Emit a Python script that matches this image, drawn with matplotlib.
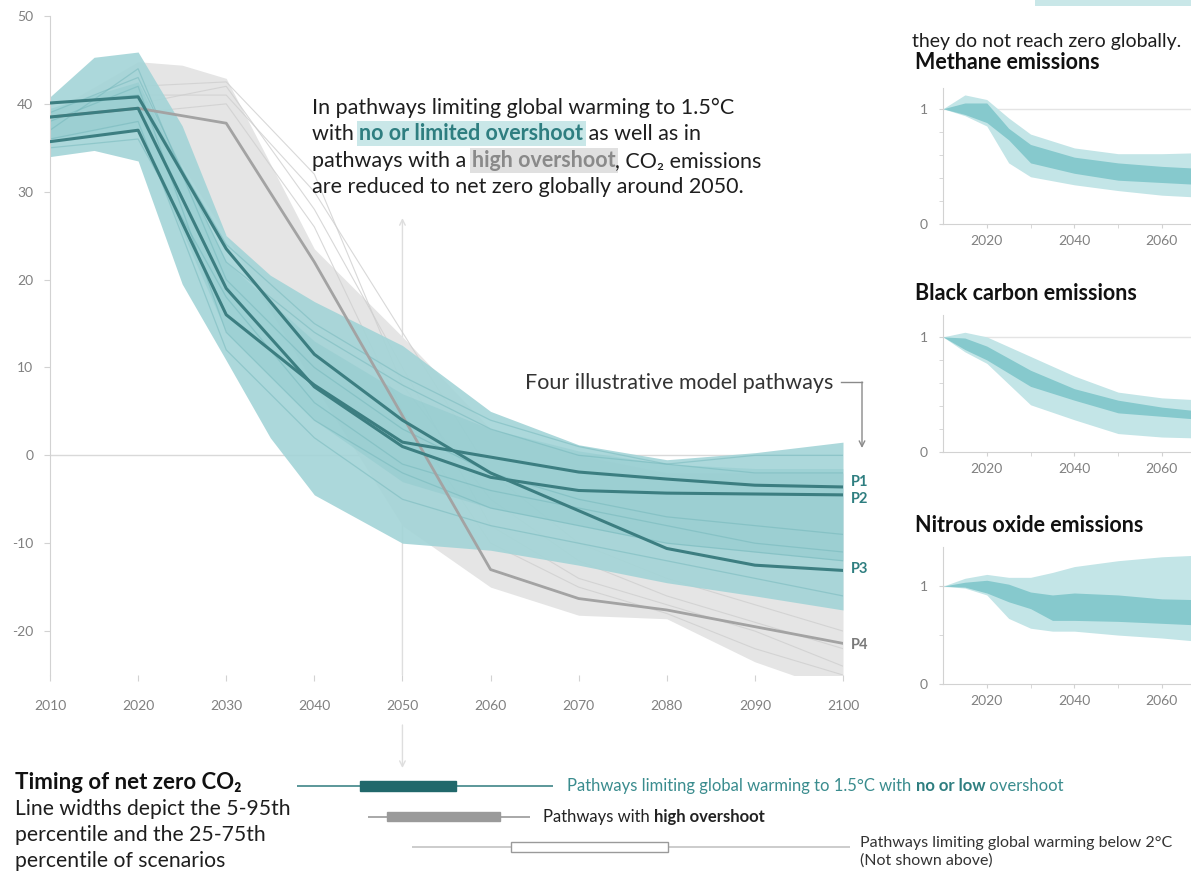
import matplotlib
matplotlib.use('Agg')
import matplotlib.pyplot as plt
from matplotlib.patches import Rectangle
from matplotlib.ticker import MultipleLocator, FixedLocator

plt.rcParams['font.family'] = ['Lato', 'DejaVu Sans']
plt.rcParams['axes.unicode_minus'] = False

# ---------------- data ----------------
env_years = [2010, 2015, 2020, 2025, 2030, 2035, 2040, 2050, 2060, 2070, 2080, 2090, 2100]
teal_upper = [40.8, 45.3, 45.9, 37.5, 25.0, 20.5, 17.5, 12.5, 5.0, 1.2, -0.5, 0.3, 1.5]
teal_lower = [34.0, 34.7, 33.5, 19.5, 10.8, 2.0, -4.5, -10.0, -10.8, -12.5, -14.5, -16.0, -17.6]

gray_years = [2010, 2020, 2025, 2030, 2040, 2050, 2060, 2070, 2080, 2090, 2100]
gray_upper = [39.0, 44.8, 44.4, 42.9, 23.5, 13.5, 3.0, 0.0, -2.0, -2.0, -2.0]
gray_lower = [36.0, 38.0, 33.0, 25.0, 8.0, -8.0, -15.0, -18.2, -18.6, -23.5, -27.0]

path_years = [2010, 2020, 2030, 2040, 2050, 2060, 2070, 2080, 2090, 2100]
P1 = [35.7, 37.0, 16.0, 8.0, 1.5, -0.2, -1.9, -2.7, -3.4, -3.6]
P2 = [38.5, 39.5, 19.0, 7.8, 1.0, -2.5, -4.0, -4.3, -4.4, -4.5]
P3 = [40.1, 40.8, 23.5, 11.5, 4.0, -2.0, -6.3, -10.6, -12.5, -13.1]
P4 = [38.5, 39.5, 37.8, 22.0, 4.5, -13.0, -16.3, -17.6, -19.5, -21.4]

teal_core_upper = [39.5, 42.5, 22.0, 13.0, 7.0, 3.0, 0.5, -1.0, -1.5, -1.5]
teal_core_lower = [36.0, 37.0, 14.0, 4.0, -3.0, -6.0, -8.0, -10.0, -11.0, -12.0]

teal_scen_1 = [37, 44, 20, 10, 3, -2, -5, -7, -8, -9]
teal_scen_2 = [38, 42, 14, 4, -2, -6, -8, -10, -11, -12]
teal_scen_3 = [36, 38, 12, 2, -5, -8, -10, -12, -14, -16]
teal_scen_4 = [39, 43, 22, 14, 8, 3, 0, -1, -2, -2]
teal_scen_5 = [35, 36, 18, 6, -1, -4, -6, -8, -10, -11]
teal_scen_6 = [40, 41, 24, 15, 9, 4, 1, -1, 0, 0]
gray_scen_years = [2020, 2030, 2040, 2050, 2060, 2070, 2080, 2090, 2100]
gray_scen_1 = [40, 42, 28, 10, -8, -14, -17, -20, -24]
gray_scen_2 = [41, 41, 30, 14, -2, -10, -14, -17, -20]
gray_scen_3 = [42, 42.5, 32, 8, -5, -12, -16, -19, -22]
gray_scen_4 = [39, 40, 26, 5, -10, -15, -18, -22, -25]

ch4_years = [2010, 2015, 2020, 2025, 2030, 2040, 2050, 2060, 2070]
ch4_p5 = [1.0, 0.94, 0.85, 0.53, 0.41, 0.34, 0.29, 0.25, 0.23]
ch4_p25 = [1.0, 0.95, 0.88, 0.73, 0.53, 0.44, 0.38, 0.36, 0.34]
ch4_p75 = [1.0, 1.05, 1.05, 0.83, 0.69, 0.58, 0.53, 0.50, 0.48]
ch4_p95 = [1.0, 1.12, 1.08, 0.92, 0.78, 0.66, 0.61, 0.61, 0.62]

bc_years = [2010, 2015, 2020, 2030, 2040, 2050, 2060, 2070]
bc_p5 = [1.0, 0.87, 0.77, 0.41, 0.28, 0.16, 0.13, 0.12]
bc_p25 = [1.0, 0.89, 0.80, 0.57, 0.45, 0.34, 0.31, 0.28]
bc_p75 = [1.0, 0.99, 0.92, 0.71, 0.55, 0.45, 0.39, 0.35]
bc_p95 = [1.0, 1.04, 1.00, 0.83, 0.66, 0.52, 0.47, 0.45]

n2o_years = [2010, 2015, 2020, 2025, 2030, 2035, 2040, 2050, 2060, 2070]
n2o_p5 = [1.0, 0.98, 0.91, 0.67, 0.57, 0.54, 0.54, 0.50, 0.47, 0.43]
n2o_p25 = [1.0, 0.99, 0.93, 0.84, 0.77, 0.65, 0.65, 0.64, 0.62, 0.60]
n2o_p75 = [1.0, 1.04, 1.06, 1.02, 0.94, 0.91, 0.93, 0.91, 0.87, 0.86]
n2o_p95 = [1.0, 1.08, 1.12, 1.09, 1.09, 1.14, 1.20, 1.26, 1.30, 1.32]

timing_p5 = [2038.0, 2046.1, 2051.1]
timing_p25 = [2045.2, 2048.3, 2062.3]
timing_p75 = [2056.1, 2061.1, 2080.1]
timing_p95 = [2067.1, 2064.5, 2100.8]

x_ticks = [2010, 2020, 2030, 2040, 2050, 2060, 2070, 2080, 2090, 2100]
y_ticks = [-20, -10, 0, 10, 20, 30, 40, 50]
panel_x_labels = [2020, 2040, 2060]
panel_x_minor = [2030, 2050, 2070, 2080, 2090, 2100]

# ---------------- layout ----------------
W, H = 1191, 877
fig = plt.figure(figsize=(W / 100, H / 100), dpi=100)


def fx(px):
    return px / W


def fy(py):
    return 1 - py / H


TEAL_FILL = '#a3d4d7'
TEAL_LINE = '#3c7e81'
TEAL_TEXT = '#2e7e80'
GRAY_FILL = '#e5e5e5'
TICK_C = '#808080'
SPINE_C = '#d2d2d2'

# main axes
ax = fig.add_axes([fx(50), fy(675), fx(793), (675 - 16) / H])
ax.set_xlim(2010, 2100)
ax.set_ylim(-25, 50)
for s in ['top', 'right', 'bottom']:
    ax.spines[s].set_visible(False)
ax.spines['left'].set_color(SPINE_C)
ax.set_xticks(x_ticks)
ax.set_yticks(y_ticks)
ax.tick_params(axis='y', length=4, color=SPINE_C, labelcolor=TICK_C, labelsize=10, pad=8)
ax.tick_params(axis='x', length=4, color=SPINE_C, labelcolor=TICK_C, labelsize=10, pad=14)

ax.axhline(0, color='#d9d9d9', lw=1, zorder=0.5)
ax.annotate('', xy=(2050, 27.0), xytext=(2050, -25),
            arrowprops=dict(arrowstyle='->', color='#dedede', lw=1, shrinkA=0, shrinkB=0,
                            mutation_scale=10), zorder=0.6)

ax.fill_between(gray_years, gray_lower, gray_upper, color=GRAY_FILL, lw=0, zorder=1)
for s in [gray_scen_1, gray_scen_2, gray_scen_3, gray_scen_4]:
    ax.plot(gray_scen_years, s, color='#cfcfcf', lw=0.8, alpha=0.8, zorder=1.1)
ax.fill_between(env_years, teal_lower, teal_upper, color=TEAL_FILL, alpha=0.9, lw=0, zorder=2)
ax.fill_between(path_years, teal_core_lower, teal_core_upper, color='#7fc2c6', alpha=0.3, lw=0, zorder=2.05)
for s in [teal_scen_1, teal_scen_2, teal_scen_3, teal_scen_4, teal_scen_5, teal_scen_6]:
    ax.plot(path_years, s, color='#6db3b7', lw=0.9, alpha=0.45, zorder=2.1)

ax.plot(path_years, P4, color='#a3a3a3', lw=2, zorder=4)
for p in [P1, P2, P3]:
    ax.plot(path_years, p, color=TEAL_LINE, lw=2.2, zorder=5)

for name, vals, dy, col in [('P1', P1, 5, TEAL_TEXT), ('P2', P2, -4, TEAL_TEXT),
                            ('P3', P3, 1, TEAL_TEXT), ('P4', P4, -2, '#7a7a7a')]:
    ax.annotate(name, xy=(2100, vals[-1]), xytext=(8, dy), textcoords='offset pixels',
                va='center', ha='left', fontsize=10.5, fontweight='bold', color=col,
                annotation_clip=False)

# arrow below the 2050 tick
ax.annotate('', xy=(2050, fy(768)), xycoords=('data', 'figure fraction'),
            xytext=(2050, fy(725)), textcoords=('data', 'figure fraction'),
            arrowprops=dict(arrowstyle='->', color='#dedede', lw=1, shrinkA=0, shrinkB=0,
                            mutation_scale=10), annotation_clip=False)

# ---------------- right panels ----------------
def panel(bottom_px, top_px, ytop, years, p5, p25, p75, p95, minor):
    a = fig.add_axes([fx(943), fy(bottom_px), 394 / W, (bottom_px - top_px) / H])
    a.set_xlim(2010, 2100)
    a.set_ylim(0, ytop)
    a.spines['top'].set_visible(False)
    a.spines['right'].set_visible(False)
    a.spines['left'].set_color(SPINE_C)
    a.spines['bottom'].set_color(SPINE_C)
    a.axhline(1, color='#e4e4e4', lw=1, zorder=0)
    a.fill_between(years, p5, p95, color='#c3e5e7', lw=0, zorder=1)
    a.fill_between(years, p25, p75, color='#86c9cd', lw=0, zorder=2)
    a.set_xticks(panel_x_labels)
    a.xaxis.set_minor_locator(FixedLocator(panel_x_minor))
    a.set_yticks([0, 1])
    a.yaxis.set_minor_locator(MultipleLocator(minor))
    a.tick_params(which='both', length=3, color=SPINE_C, labelcolor=TICK_C, labelsize=10)
    a.tick_params(axis='y', pad=8)
    a.tick_params(axis='x', pad=5)
    return a


panel(224, 88, 1.18, ch4_years, ch4_p5, ch4_p25, ch4_p75, ch4_p95, 0.2)
panel(452, 315, 1.19, bc_years, bc_p5, bc_p25, bc_p75, bc_p95, 0.2)
panel(684, 547, 1.40, n2o_years, n2o_p5, n2o_p25, n2o_p75, n2o_p95, 0.5)

# ---------------- timing bars ----------------
axt = fig.add_axes([fx(50), fy(862.25), fx(793), 91.5 / H])
axt.set_xlim(2010, 2100)
axt.set_ylim(2.5, -0.5)
axt.axis('off')
thin_c = ['#3f8588', '#9a9a9a', '#c4c4c4']
bar_fc = ['#21686b', '#9a9a9a', 'white']
bar_ec = ['#21686b', '#9a9a9a', '#9a9a9a']
for i in range(3):
    axt.hlines(i, timing_p5[i], timing_p95[i], color=thin_c[i], lw=1.2, clip_on=False, zorder=1)
    axt.barh(i, timing_p75[i] - timing_p25[i], left=timing_p25[i], height=0.3,
             color=bar_fc[i], edgecolor=bar_ec[i], lw=1, clip_on=False, zorder=2)

# ---------------- overlay text ----------------
ov = fig.add_axes([0, 0, 1, 1])
ov.set_xlim(0, W)
ov.set_ylim(H, 0)
ov.axis('off')


def rich(x, y, parts, size):
    prev = None
    for txt, weight, color, bg in parts:
        kw = dict(fontsize=size, fontweight=weight, color=color)
        if bg:
            kw['bbox'] = dict(boxstyle='square,pad=0.1', fc=bg, ec='none')
        if prev is None:
            t = ov.text(x, y, txt, ha='left', va='baseline', **kw)
        else:
            t = ov.annotate(txt, xy=(1, 0), xycoords=prev, ha='left', va='bottom', **kw)
        prev = t
    return prev


DARK = '#1e1e1e'
S = 15.5
rich(312, 114, [('In pathways limiting global warming to 1.5°C', 'normal', DARK, None)], S)
rich(312, 140, [('with ', 'normal', DARK, None),
                ('no or limited overshoot', 'bold', TEAL_TEXT, '#c9e7e8'),
                (' as well as in', 'normal', DARK, None)], S)
rich(312, 167, [('pathways with a ', 'normal', DARK, None),
                ('high overshoot', 'bold', '#8a8a8a', '#e0e0e0'),
                (', CO₂ emissions', 'normal', DARK, None)], S)
rich(312, 193, [('are reduced to net zero globally around 2050.', 'normal', DARK, None)], S)

ov.text(833, 389, 'Four illustrative model pathways', ha='right', va='baseline', fontsize=S, color='#333333')
ov.plot([841, 862], [382, 382], color='#8a8a8a', lw=1)
ov.annotate('', xy=(862, 448), xytext=(862, 382),
            arrowprops=dict(arrowstyle='->', color='#8a8a8a', lw=1, shrinkA=0, shrinkB=0, mutation_scale=10))

# right side texts
ov.add_patch(Rectangle((1035, 0), 160, 6, color='#c9e7e8', lw=0))
ov.text(912, 47, 'they do not reach zero globally.', ha='left', va='baseline', fontsize=14, color=DARK)
ov.text(915, 69, 'Methane emissions', ha='left', va='baseline', fontsize=S, fontweight='bold', color='#111111')
ov.text(915, 300, 'Black carbon emissions', ha='left', va='baseline', fontsize=S, fontweight='bold', color='#111111')
ov.text(915, 532, 'Nitrous oxide emissions', ha='left', va='baseline', fontsize=S, fontweight='bold', color='#111111')

# bottom texts
ov.text(15, 789, 'Timing of net zero CO₂', ha='left', va='baseline', fontsize=16, fontweight='bold', color='#111111')
ov.text(15, 815, 'Line widths depict the 5-95th', ha='left', va='baseline', fontsize=15.2, color=DARK)
ov.text(15, 841, 'percentile and the 25-75th', ha='left', va='baseline', fontsize=15.2, color=DARK)
ov.text(15, 867, 'percentile of scenarios', ha='left', va='baseline', fontsize=15.2, color=DARK)

rich(567, 791, [('Pathways limiting global warming to 1.5°C with ', 'normal', '#3a8c8e', None),
                ('no or low', 'bold', '#2e7e80', None),
                (' overshoot', 'normal', '#3a8c8e', None)], 12)
rich(543, 822, [('Pathways with ', 'normal', '#222222', None),
                ('high overshoot', 'bold', '#222222', None)], 12)
ov.text(860, 847, 'Pathways limiting global warming below 2°C', ha='left', va='baseline', fontsize=11.5, color='#333333')
ov.text(860, 865, '(Not shown above)', ha='left', va='baseline', fontsize=11.5, color='#333333')

fig.savefig('out.png', dpi=100)
